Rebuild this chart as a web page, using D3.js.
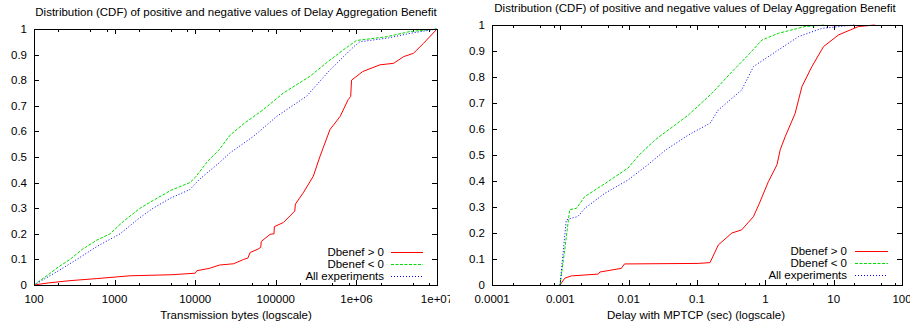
<!DOCTYPE html>
<html><head><meta charset="utf-8">
<script src="https://cdn.jsdelivr.net/npm/d3@7"></script>
<style>
html,body{margin:0;padding:0;background:#fff;}
text{font-family:"Liberation Sans",Arial,Helvetica,sans-serif;fill:#000;}
</style></head><body>
<svg id="c" width="910" height="326"></svg>
<script>
const title = "Distribution (CDF) of positive and negative values of Delay Aggregation Benefit";
const legendLabels = ["Dbenef > 0", "Dbenef < 0", "All experiments"];
const yTicks = [0,0.1,0.2,0.3,0.4,0.5,0.6,0.7,0.8,0.9,1];
const yTickLabels = ["0","0.1","0.2","0.3","0.4","0.5","0.6","0.7","0.8","0.9","1"];

const leftXTicks = [100,1e3,1e4,1e5,1e6,1e7];
const leftXTickLabels = ["100","1000","10000","100000","1e+06","1e+07"];
const leftXLabel = "Transmission bytes (logscale)";
const leftPos = [[100,0],[150,0.008],[280,0.017],[600,0.025],[1550,0.036],[5000,0.04],[10000,0.046],[10500,0.056],[15000,0.065],[20000,0.078],[30000,0.083],[40000,0.1],[45000,0.105],[48000,0.127],[60000,0.14],[65000,0.147],[66000,0.17],[85000,0.198],[95000,0.2],[96000,0.228],[124000,0.244],[150000,0.27],[172000,0.289],[175000,0.316],[219000,0.36],[292000,0.425],[354000,0.503],[470000,0.607],[630000,0.659],[790000,0.724],[850000,0.737],[870000,0.8],[1200000,0.834],[1960000,0.86],[2900000,0.866],[3850000,0.892],[5100000,0.905],[6800000,0.944],[1e7,1]];
const leftNeg = [[100,0],[150,0.04],[200,0.07],[280,0.1],[400,0.14],[600,0.175],[877,0.2],[1300,0.25],[2070,0.3],[3000,0.33],[5000,0.37],[8600,0.4],[10000,0.42],[14000,0.48],[20000,0.53],[27000,0.585],[40000,0.63],[70000,0.685],[124000,0.75],[265000,0.815],[470000,0.879],[700000,0.92],[1000000,0.955],[2400000,0.97],[4600000,0.99],[1e7,1]];
const leftAll = [[100,0],[200,0.055],[340,0.1],[600,0.15],[1170,0.2],[2000,0.26],[3000,0.3],[5000,0.34],[8600,0.373],[11400,0.414],[20300,0.48],[27000,0.516],[53000,0.581],[103000,0.659],[240000,0.737],[470000,0.84],[920000,0.93],[1100000,0.95],[2500000,0.965],[4600000,0.983],[1e7,1]];

const rightXTicks = [1e-4,1e-3,1e-2,0.1,1,10,100];
const rightXTickLabels = ["0.0001","0.001","0.01","0.1","1","10","100"];
const rightXLabel = "Delay with MPTCP (sec) (logscale)";
const rightPos = [[0.00099,0],[0.00116,0.026],[0.00145,0.035],[0.0036,0.042],[0.0038,0.05],[0.0078,0.064],[0.0087,0.081],[0.104,0.083],[0.155,0.086],[0.205,0.154],[0.324,0.2],[0.45,0.212],[0.67,0.263],[0.8,0.308],[1.11,0.398],[1.48,0.462],[1.65,0.52],[1.95,0.57],[2.73,0.66],[3.43,0.763],[4.8,0.84],[7.1,0.917],[11.8,0.962],[23,0.994],[40,1]];
const rightNeg = [[0.00099,0],[0.00116,0.135],[0.00137,0.29],[0.00172,0.295],[0.00228,0.34],[0.0045,0.39],[0.0098,0.45],[0.0142,0.5],[0.0243,0.558],[0.075,0.654],[0.165,0.737],[0.324,0.82],[0.565,0.885],[0.89,0.942],[1.55,0.968],[3.8,0.994],[7.5,1]];
const rightAll = [[0.00099,0],[0.00122,0.25],[0.00145,0.257],[0.0018,0.263],[0.00228,0.295],[0.0045,0.353],[0.0098,0.404],[0.019,0.462],[0.035,0.52],[0.075,0.577],[0.155,0.622],[0.205,0.673],[0.45,0.75],[0.67,0.84],[1.55,0.904],[3.05,0.955],[6.7,0.987],[20,1]];

const minorMult = [2,5,8];
const colors = ["#ff0000","#00dd00","#0000ff"];
const dashes = [null,"3,1.5","1,2"];

const svg = d3.select("#c");
const FS = 11.5;

function drawChart(o){
  const g = svg.append("g");
  if (o.clip){
    const id = "clip"+o.id;
    svg.append("clipPath").attr("id",id).append("rect").attr("x",o.clip[0]).attr("y",0).attr("width",o.clip[1]-o.clip[0]).attr("height",326);
    g.attr("clip-path","url(#"+id+")");
  }
  const x = d3.scaleLog().domain(o.xDomain).range([o.x0,o.x1]);
  const y = d3.scaleLinear().domain([0,1]).range([o.y1,o.y0]);

  // minor ticks
  const minors = [];
  for (let i=0;i<o.xTicks.length-1;i++) minorMult.forEach(m=>minors.push(o.xTicks[i]*m));
  const tk = g.append("g").attr("stroke","#000").attr("stroke-width",1).attr("shape-rendering","crispEdges");
  minors.forEach(v=>{
    const px = Math.round(x(v))+0.5;
    tk.append("line").attr("x1",px).attr("x2",px).attr("y1",o.y1).attr("y2",o.y1-2.5);
    tk.append("line").attr("x1",px).attr("x2",px).attr("y1",o.y0).attr("y2",o.y0+2.5);
  });
  o.xTicks.forEach(v=>{
    const px = Math.round(x(v))+0.5;
    tk.append("line").attr("x1",px).attr("x2",px).attr("y1",o.y1).attr("y2",o.y1-5);
    tk.append("line").attr("x1",px).attr("x2",px).attr("y1",o.y0).attr("y2",o.y0+5);
  });
  yTicks.forEach(v=>{
    const py = Math.round(y(v))+0.5;
    tk.append("line").attr("x1",o.x0).attr("x2",o.x0+5).attr("y1",py).attr("y2",py);
    tk.append("line").attr("x1",o.x1).attr("x2",o.x1-5).attr("y1",py).attr("y2",py);
  });

  // tick labels
  o.xTicks.forEach((v,i)=>{
    g.append("text").attr("x",x(v)).attr("y",o.y1+18).attr("text-anchor","middle").attr("font-size",FS).text(o.xTickLabels[i]);
  });
  yTicks.forEach((v,i)=>{
    g.append("text").attr("x",o.x0-7).attr("y",y(v)+4).attr("text-anchor","end").attr("font-size",FS).text(yTickLabels[i]);
  });

  // lines
  const line = d3.line().x(d=>x(d[0])).y(d=>y(d[1]));
  o.series.forEach((s,i)=>{
    const p = g.append("path").datum(s).attr("d",line).attr("fill","none").attr("stroke",colors[i]).attr("stroke-width",1);
    if (dashes[i]) p.attr("stroke-dasharray",dashes[i]);
  });

  // frame
  g.append("rect").attr("x",o.x0+0.5).attr("y",o.y0+0.5).attr("width",o.x1-o.x0).attr("height",o.y1-o.y0)
    .attr("fill","none").attr("stroke","#000").attr("stroke-width",1).attr("shape-rendering","crispEdges");

  // legend
  legendLabels.forEach((t,i)=>{
    const ly = o.legY[i];
    g.append("text").attr("x",o.legTextX).attr("y",ly+4).attr("text-anchor","end").attr("font-size",FS).text(t);
    const l = g.append("line").attr("x1",o.legLine[0]).attr("x2",o.legLine[1]).attr("y1",ly+0.5).attr("y2",ly+0.5)
      .attr("stroke",colors[i]).attr("stroke-width",1);
    if (dashes[i]) l.attr("stroke-dasharray",dashes[i]);
  });

  // title & x label
  g.append("text").attr("x",o.titleX).attr("y",o.titleY).attr("text-anchor","middle").attr("font-size",FS).text(title);
  g.append("text").attr("x",o.xlabX).attr("y",319).attr("text-anchor","middle").attr("font-size",FS).text(o.xLabel);
}

drawChart({id:"L", clip:[0,450], xDomain:[100,1e7], x0:34, x1:437, y0:29, y1:285,
  xTicks:leftXTicks, xTickLabels:leftXTickLabels, xLabel:leftXLabel,
  series:[leftPos,leftNeg,leftAll], legY:[252,264,276], legTextX:384, legLine:[391,423],
  titleX:236, titleY:16, xlabX:236});
drawChart({id:"R", clip:[450,910], xDomain:[1e-4,100], x0:492, x1:902, y0:25, y1:285,
  xTicks:rightXTicks, xTickLabels:rightXTickLabels, xLabel:rightXLabel,
  series:[rightPos,rightNeg,rightAll], legY:[251,263,275], legTextX:847, legLine:[855,888],
  titleX:695, titleY:12, xlabX:696});
</script>
</body></html>
